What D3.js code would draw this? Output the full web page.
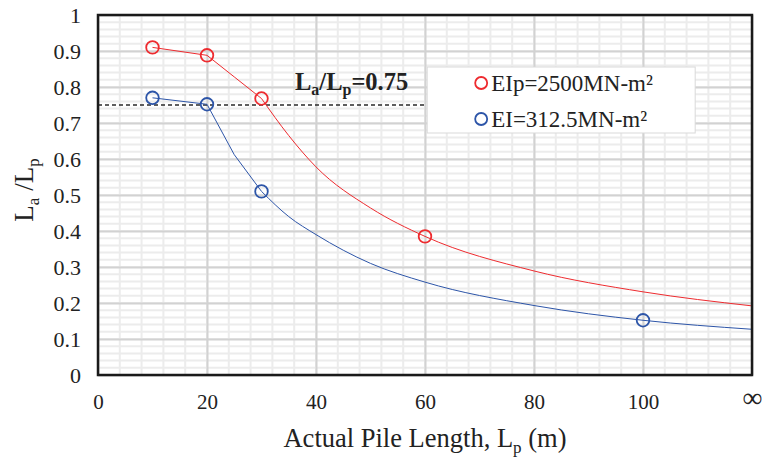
<!DOCTYPE html>
<html lang='en'>
<head>
<meta http-equiv='Content-Type' content='text/html;charset=utf-8'/>
<title>La/Lp vs pile length</title>
<script src='https://d3js.org/d3.v7.min.js'></script>
<style>
  body { margin: 0; background: #fff; }
  svg text { font-family: 'Liberation Serif', 'DejaVu Serif', serif !important; fill: #222; }
</style>
</head>
<body>
<script>
'use strict'
// pile length (m) and ratio La/Lp
const redX = [10, 20, 25, 30, 35, 40, 50, 60, 80, 100, 120]
const redY = [0.91, 0.888, 0.828, 0.768, 0.665, 0.578, 0.464, 0.385, 0.289, 0.231, 0.192]
const redMarks = [10, 20, 30, 60]

const blueX = [10, 20, 25, 30, 35, 40, 50, 60, 80, 100, 120]
const blueY = [0.77, 0.752, 0.612, 0.51, 0.44, 0.39, 0.31, 0.258, 0.193, 0.152, 0.127]
const blueMarks = [10, 20, 30, 100]

// below this length the points are joined by straight segments
const kneeX = 30

const xTicks = [0, 20, 40, 60, 80, 100, 120]
const xTickLabels = ['0', '20', '40', '60', '80', '100', '\u221e']
const yTicks = [0, 0.1, 0.2, 0.3, 0.4, 0.5, 0.6, 0.7, 0.8, 0.9, 1]

const legendNames = ['EIp=2500MN-m\u00b2', 'EI=312.5MN-m\u00b2']
const colors = ['#ee2b2f', '#2d55a8']

const W = 763, H = 458
const margin = {top: 15, right: 11, bottom: 83, left: 98}
const width = W - margin.left - margin.right
const height = H - margin.top - margin.bottom
const serif = "'Liberation Serif', 'Times New Roman', serif"

const svg = d3.select('body').append('svg')
  .attr('width', W)
  .attr('height', H)
  .attr('font-family', serif)

const g = svg.append('g').attr('transform', `translate(${margin.left},${margin.top})`)

const x = d3.scaleLinear().domain([0, 120]).range([0, width])
const y = d3.scaleLinear().domain([0, 1]).range([height, 0])

// minor grid
g.append('g')
  .selectAll('line')
  .data(d3.range(0, 121, 4))
  .join('line')
  .attr('x1', d => x(d)).attr('x2', d => x(d))
  .attr('y1', 0).attr('y2', height)
  .attr('stroke', '#ececec').attr('stroke-width', 2)
g.append('g')
  .selectAll('line')
  .data(d3.range(0, 51).map(i => i * 0.02))
  .join('line')
  .attr('x1', 0).attr('x2', width)
  .attr('y1', d => y(d)).attr('y2', d => y(d))
  .attr('stroke', '#ececec').attr('stroke-width', 2)

// major grid
g.append('g')
  .call(d3.axisBottom(x).tickValues(xTicks).tickSize(height).tickFormat(''))
  .call(a => a.select('.domain').remove())
  .call(a => a.selectAll('line').attr('stroke', '#d2d2d2').attr('stroke-width', 2))
g.append('g')
  .call(d3.axisLeft(y).tickValues(yTicks).tickSize(-width).tickFormat(''))
  .call(a => a.select('.domain').remove())
  .call(a => a.selectAll('line').attr('stroke', '#d2d2d2').attr('stroke-width', 2))

// tick labels
g.append('g')
  .attr('transform', `translate(0,${height})`)
  .call(d3.axisBottom(x).tickValues(xTicks).tickSize(0).tickPadding(19)
    .tickFormat((d, i) => xTickLabels[i]))
  .attr('font-family', serif)
  .call(a => a.select('.domain').remove())
  .call(a => a.selectAll('text').style('font-size', '21px').attr('fill', '#222'))
  .call(a => a.selectAll('text').filter(d => d === 120)
    .style('font-size', '28px').attr('dy', '0.45em'))
g.append('g')
  .call(d3.axisLeft(y).tickValues(yTicks).tickSize(0).tickPadding(17)
    .tickFormat(d3.format('')))
  .attr('font-family', serif)
  .call(a => a.select('.domain').remove())
  .call(a => a.selectAll('text').style('font-size', '22px').attr('fill', '#222'))

// 0.75 reference line
g.append('line')
  .attr('x1', 0).attr('x2', x(60.4))
  .attr('y1', y(0.75)).attr('y2', y(0.75))
  .attr('stroke', '#2a2a2a').attr('stroke-width', 1.3)
  .attr('stroke-dasharray', '4,3')

const straight = d3.line()
  .x(d => x(d[0]))
  .y(d => y(d[1]))
const smooth = d3.line()
  .x(d => x(d[0]))
  .y(d => y(d[1]))
  .curve(d3.curveMonotoneX)

const series = [
  {xs: redX, ys: redY, marks: redMarks},
  {xs: blueX, ys: blueY, marks: blueMarks}
]

series.forEach((s, i) => {
  const pts = s.xs.map((v, j) => [v, s.ys[j]])
  const paths = [
    straight(pts.filter(p => p[0] <= kneeX)),
    smooth(pts.filter(p => p[0] >= kneeX))
  ]
  paths.forEach(d => {
    g.append('path')
      .attr('d', d)
      .attr('fill', 'none')
      .attr('stroke', colors[i])
      .attr('stroke-width', 1)
  })
  g.selectAll(null)
    .data(pts.filter(p => s.marks.includes(p[0])))
    .join('circle')
    .attr('cx', d => x(d[0]))
    .attr('cy', d => y(d[1]))
    .attr('r', 6.3)
    .attr('fill', 'none')
    .attr('stroke', colors[i])
    .attr('stroke-width', 1.8)
})

// frame
g.append('rect')
  .attr('width', width).attr('height', height)
  .attr('fill', 'none')
  .attr('stroke', '#1a1a1a').attr('stroke-width', 2.5)

// annotation
const ann = g.append('text')
  .attr('x', 197).attr('y', 75)
  .style('font-size', '24.5px').style('font-weight', 'bold')
ann.append('tspan').text('L')
ann.append('tspan').text('a').style('font-size', '16px').attr('dy', 5)
ann.append('tspan').text('/L').attr('dy', -5)
ann.append('tspan').text('p').style('font-size', '16px').attr('dy', 5)
ann.append('tspan').text('=0.75').attr('dy', -5)

// legend
const leg = g.append('g').attr('transform', `translate(${x(60.4)},52)`)
leg.append('rect')
  .attr('width', 268).attr('height', 66)
  .attr('fill', '#fff')
  .attr('stroke', '#d9d9d9').attr('stroke-width', 1)
legendNames.forEach((name, i) => {
  leg.append('circle')
    .attr('cx', 54).attr('cy', 16 + i * 36)
    .attr('r', 6)
    .attr('fill', 'none')
    .attr('stroke', colors[i])
    .attr('stroke-width', 1.8)
  leg.append('text')
    .attr('x', 64).attr('y', 24 + i * 36)
    .style('font-size', '23px')
    .text(name)
})

// axis titles
const xt = svg.append('text')
  .attr('x', margin.left + width / 2).attr('y', 447)
  .attr('text-anchor', 'middle')
  .style('font-size', '26.5px')
xt.append('tspan').text('Actual Pile Length, L')
xt.append('tspan').text('p').style('font-size', '17px').attr('dy', 6)
xt.append('tspan').text(' (m)').attr('dy', -6)

const yt = svg.append('text')
  .attr('transform', 'translate(33,190) rotate(-90)')
  .attr('text-anchor', 'middle')
  .style('font-size', '27px')
yt.append('tspan').text('L')
yt.append('tspan').text('a').style('font-size', '17px').attr('dy', 6)
yt.append('tspan').text(' /L').attr('dy', -6)
yt.append('tspan').text('p').style('font-size', '17px').attr('dy', 6)
</script>
</body>
</html>
